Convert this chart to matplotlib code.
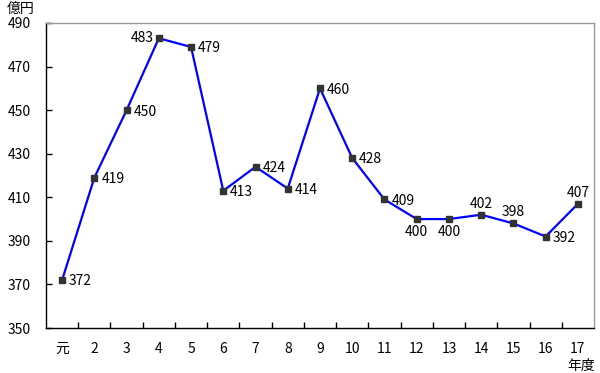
import matplotlib
matplotlib.use("Agg")
import matplotlib.pyplot as plt

plt.rcParams['font.family'] = ['Noto Sans CJK JP', 'DejaVu Sans']

categories = ['元', '2', '3', '4', '5', '6', '7', '8', '9', '10', '11', '12', '13', '14', '15', '16', '17']
values = [372, 419, 450, 483, 479, 413, 424, 414, 460, 428, 409, 400, 400, 402, 398, 392, 407]
# label placement: r=right, l=left, b=below, a=above
placement = ['r', 'r', 'r', 'l', 'r', 'r', 'r', 'r', 'r', 'r', 'r', 'b', 'b', 'a', 'a', 'r', 'a']
yticks = [350, 370, 390, 410, 430, 450, 470, 490]

FS = 10

fig = plt.figure(figsize=(6.0, 3.73), dpi=100)
ax = fig.add_axes([46/600, 45/373, 548/600, 305/373])

x = list(range(len(categories)))
ax.plot(x, values, color='#0000ff', linewidth=1.6, zorder=2)
ax.plot(x, values, linestyle='none', marker='s', markersize=5, color='#333333', zorder=3)

for xi, v, p in zip(x, values, placement):
    if p == 'r':
        ax.annotate(str(v), (xi, v), xytext=(5, -1), textcoords='offset points', ha='left', va='center', fontsize=FS)
    elif p == 'l':
        ax.annotate(str(v), (xi, v), xytext=(-4, 0), textcoords='offset points', ha='right', va='center', fontsize=FS)
    elif p == 'b':
        ax.annotate(str(v), (xi, v), xytext=(0, -4), textcoords='offset points', ha='center', va='top', fontsize=FS)
    else:
        ax.annotate(str(v), (xi, v), xytext=(0, 3), textcoords='offset points', ha='center', va='bottom', fontsize=FS)

ax.set_xlim(-0.5, len(categories) - 0.5)
ax.set_ylim(350, 490)
ax.set_yticks(yticks)
ax.set_yticklabels([str(t) for t in yticks], fontsize=FS)
ax.tick_params(axis='y', direction='in', length=4, pad=11, width=1)
ax.set_xticks(x)
ax.set_xticklabels(categories, fontsize=FS)
ax.tick_params(axis='x', length=0, pad=10)
ax.set_xticks([i + 0.5 for i in x[:-1]], minor=True)
ax.tick_params(axis='x', which='minor', direction='in', length=4, width=1)

for s in ['left', 'bottom']:
    ax.spines[s].set_color('black')
    ax.spines[s].set_linewidth(1)
for s in ['top', 'right']:
    ax.spines[s].set_color('#999999')
    ax.spines[s].set_linestyle((0, (1, 1)))
    ax.spines[s].set_linewidth(1)

fig.text(7/600, 1 - 9/373, '億円', fontsize=FS, ha='left', va='center')
fig.text(595/600, 1 - 366/373, '年度', fontsize=FS, ha='right', va='center')

fig.savefig('out.png', dpi=100)
